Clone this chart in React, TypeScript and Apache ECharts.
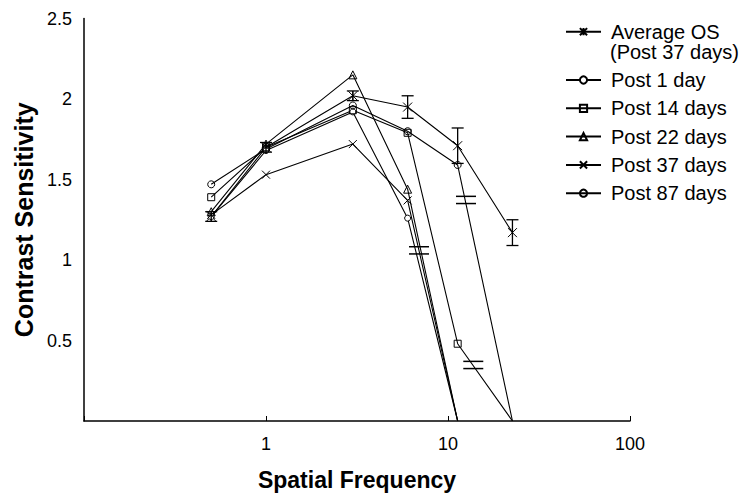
import React, { useEffect, useRef } from 'react';
import * as echarts from 'echarts';

const freqs = [0.5, 1, 3, 6, 11.3, 22.6];
const avgOS = [1.27, 1.70, 2.02, 1.95, 1.71, 1.17];
const avgErr = [0.03, 0.03, 0.03, 0.07, 0.11, 0.08];
const post1 = [1.27, 1.68, 1.92, 1.26, 0];
const post14 = [1.39, 1.70, 1.93, 1.79, 0.48, 0];
const post22 = [1.30, 1.72, 2.15, 1.44, 0];
const post37 = [1.28, 1.53, 1.72, 1.37, 0];
const post87 = [1.47, 1.69, 1.96, 1.80, 1.59, 0];
const seriesNames = ['Average OS (Post 37 days)', 'Post 1 day', 'Post 14 days', 'Post 22 days', 'Post 37 days', 'Post 87 days'];
const breakX = [6.93, 12.56, 13.77];
const breakY = [1.06, 1.373, 0.348];

const FONT = 'Arial, "Liberation Sans", Helvetica, sans-serif';
const ASTERISK = 'path://M0,0L10,10M10,0L0,10M5,0L5,10';
const CROSS = 'path://M0,0L10,10M10,0L0,10';

function toData(vals: number[]) {
  return vals.map((v, i) => (v === 0 ? { value: [freqs[i], v], symbol: 'none' } : { value: [freqs[i], v] }));
}

function lineSeries(name: string, vals: number[], symbol: string, size: number, fill: string) {
  return {
    name,
    type: 'line',
    data: toData(vals),
    symbol,
    symbolSize: size,
    showAllSymbol: true,
    lineStyle: { color: '#000', width: 1.1 },
    itemStyle: { color: fill, borderColor: '#000', borderWidth: 1 },
    z: 3,
  };
}

export default function App() {
  const ref = useRef<HTMLDivElement>(null);
  useEffect(() => {
    if (!ref.current) return;
    const chart = echarts.init(ref.current, undefined, { renderer: 'svg' });
    const errData = freqs.map((f, i) => [f, avgOS[i] - avgErr[i], avgOS[i] + avgErr[i]]);
    const breakData = breakX.map((x, i) => [x, breakY[i]]);
    const legendText = { fontFamily: FONT, fontSize: 20, color: '#000', lineHeight: 20, padding: [0, 0, 0, 5] };
    chart.setOption({
      animation: false,
      backgroundColor: '#fff',
      textStyle: { fontFamily: FONT, color: '#000' },
      grid: { left: 84, right: 110, top: 18.5, bottom: 77 },
      xAxis: {
        type: 'log',
        logBase: 10,
        min: 0.1,
        max: 100,
        name: 'Spatial Frequency',
        nameLocation: 'middle',
        nameGap: 47,
        nameTextStyle: { fontFamily: FONT, fontWeight: 'bold', fontSize: 23, color: '#000' },
        axisLine: { lineStyle: { color: '#000', width: 1.5 } },
        axisTick: { show: true, inside: true, length: 5, lineStyle: { color: '#000' } },
        minorTick: { show: false },
        splitLine: { show: false },
        axisLabel: {
          fontFamily: FONT,
          fontSize: 18,
          color: '#000',
          margin: 14,
          formatter: (v: number) => (v < 0.5 ? '' : String(Math.round(v))),
        },
      },
      yAxis: {
        type: 'value',
        min: 0,
        max: 2.5,
        interval: 0.5,
        name: 'Contrast Sensitivity',
        nameLocation: 'middle',
        nameGap: 47,
        nameRotate: 90,
        nameTextStyle: { fontFamily: FONT, fontWeight: 'bold', fontSize: 25, color: '#000' },
        axisLine: { show: true, lineStyle: { color: '#000', width: 1.5 } },
        axisTick: { show: false },
        splitLine: { show: false },
        axisLabel: {
          fontFamily: FONT,
          fontSize: 18,
          color: '#000',
          margin: 12,
          formatter: (v: number) => (v === 0 ? '' : String(v)),
        },
      },
      legend: [
        {
          data: [seriesNames[0]],
          orient: 'vertical',
          left: 565,
          top: 21.7,
          padding: 0,
          itemWidth: 35,
          itemHeight: 9,
          selectedMode: false,
          formatter: () => 'Average OS',
          textStyle: legendText,
        },
        {
          data: seriesNames.slice(1),
          orient: 'vertical',
          left: 565,
          top: 70,
          padding: 0,
          itemWidth: 35,
          itemHeight: 9,
          itemGap: 8.3,
          selectedMode: false,
          textStyle: legendText,
        },
      ],
      graphic: [
        {
          type: 'text',
          left: 610,
          top: 41.7,
          style: { text: '(Post 37 days)', font: `20px ${FONT}`, fill: '#000' },
        },
      ],
      series: [
        lineSeries(seriesNames[0], avgOS, ASTERISK, 9, 'none'),
        lineSeries(seriesNames[1], post1, 'circle', 6, '#fff'),
        lineSeries(seriesNames[2], post14, 'rect', 7, 'none'),
        lineSeries(seriesNames[3], post22, 'triangle', 8, 'none'),
        lineSeries(seriesNames[4], post37, CROSS, 8, 'none'),
        lineSeries(seriesNames[5], post87, 'circle', 7, 'none'),
        {
          type: 'custom',
          name: 'errorbars',
          data: errData,
          encode: { x: 0, y: [1, 2] },
          z: 4,
          renderItem: (params: any, api: any) => {
            const x = api.value(0);
            const lo = api.coord([x, api.value(1)]);
            const hi = api.coord([x, api.value(2)]);
            const hw = 6;
            const st = { stroke: '#000', lineWidth: 1.3 };
            return {
              type: 'group',
              children: [
                { type: 'line', shape: { x1: lo[0], y1: lo[1], x2: hi[0], y2: hi[1] }, style: st },
                { type: 'line', shape: { x1: lo[0] - hw, y1: lo[1], x2: lo[0] + hw, y2: lo[1] }, style: st },
                { type: 'line', shape: { x1: hi[0] - hw, y1: hi[1], x2: hi[0] + hw, y2: hi[1] }, style: st },
              ],
            };
          },
        },
        {
          type: 'custom',
          name: 'breaks',
          data: breakData,
          encode: { x: 0, y: 1 },
          z: 5,
          renderItem: (params: any, api: any) => {
            const p = api.coord([api.value(0), api.value(1)]);
            const hw = 10;
            const g = 3.6;
            const st = { stroke: '#000', lineWidth: 1.5 };
            return {
              type: 'group',
              children: [
                { type: 'line', shape: { x1: p[0] - hw, y1: p[1] - g, x2: p[0] + hw, y2: p[1] - g }, style: st },
                { type: 'line', shape: { x1: p[0] - hw, y1: p[1] + g, x2: p[0] + hw, y2: p[1] + g }, style: st },
              ],
            };
          },
        },
      ],
    });
    return () => chart.dispose();
  }, []);
  return <div ref={ref} style={{ position: 'fixed', left: 0, top: 0, width: 740, height: 498 }} />;
}
